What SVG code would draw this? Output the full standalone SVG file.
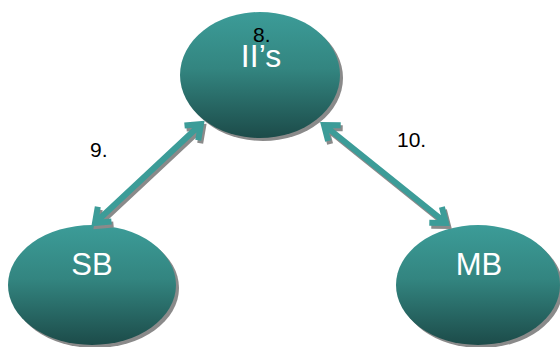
<svg xmlns="http://www.w3.org/2000/svg" width="560" height="347" viewBox="0 0 560 347">
<defs>
<linearGradient id="g" x1="0" y1="0" x2="0" y2="1">
<stop offset="0" stop-color="#3c9c98"/>
<stop offset="0.45" stop-color="#338580"/>
<stop offset="1" stop-color="#1c4b49"/>
</linearGradient>
<style>
.sh{fill:#8a8a8a}
.el{fill:url(#g)}
.nt{font-family:"Liberation Sans",Arial,sans-serif;fill:#ffffff;text-anchor:middle}
.lb{font-family:"Liberation Sans",Arial,sans-serif;fill:#000000;font-size:21px}
.ar{fill:none;stroke:#3c9c98;stroke-width:6;stroke-linejoin:miter}
.as{fill:none;stroke:#8a8a8a;stroke-width:6;stroke-linejoin:miter}
</style>
</defs>
<rect width="560" height="347" fill="#ffffff"/>
<g id="node-iis">
<ellipse class="sh" cx="263" cy="78" rx="80" ry="63"/>
<ellipse class="el" cx="260" cy="75" rx="80" ry="63"/>
<text class="nt" x="261" y="67" font-size="32">II’s</text>
</g>
<g id="node-sb">
<ellipse class="sh" cx="95" cy="288" rx="84" ry="60"/>
<ellipse class="el" cx="92" cy="285" rx="84" ry="60"/>
<text class="nt" x="92" y="275" font-size="31">SB</text>
</g>
<g id="node-mb">
<ellipse class="sh" cx="481" cy="288" rx="82" ry="60"/>
<ellipse class="el" cx="478" cy="285" rx="82" ry="60"/>
<text class="nt" x="479" y="275" font-size="31">MB</text>
</g>
<g id="connectors">
<path class="as" transform="translate(2,3)" d="M201,124 L95,223 M198.2,140.2 L201,124 L184.5,125.6 M111.5,221.4 L95,223 L97.8,206.8"/>
<path class="ar" d="M201,124 L95,223 M198.2,140.2 L201,124 L184.5,125.6 M111.5,221.4 L95,223 L97.8,206.8"/>
<path class="as" transform="translate(2,3)" d="M324,125 L446,223 M328.1,140.9 L324,125 L340.7,125.3 M429.3,222.7 L446,223 L441.9,207.1"/>
<path class="ar" d="M324,125 L446,223 M328.1,140.9 L324,125 L340.7,125.3 M429.3,222.7 L446,223 L441.9,207.1"/>
</g>
<g id="labels">
<text class="lb" x="253" y="42">8.</text>
<text class="lb" x="90" y="157">9.</text>
<text class="lb" x="397" y="147">10.</text>
</g>
</svg>
